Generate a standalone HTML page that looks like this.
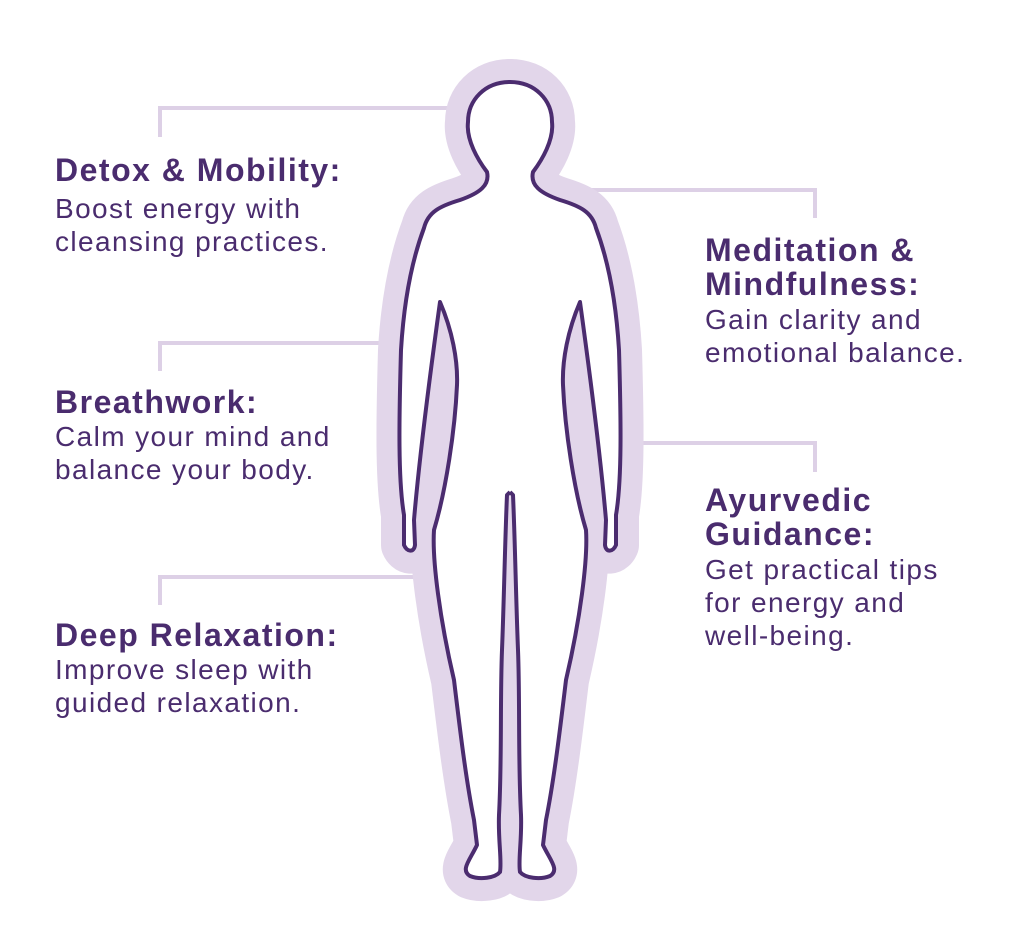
<!DOCTYPE html>
<html><head><meta charset="utf-8"><style>
html,body{margin:0;padding:0;background:#fff;}
#c{position:relative;width:1024px;height:952px;overflow:hidden;font-family:"Liberation Sans",sans-serif;color:#4a2c6e;}
.h{position:absolute;font-weight:bold;font-size:32px;line-height:34px;letter-spacing:1.5px;white-space:nowrap;}
.b{position:absolute;font-size:28px;line-height:33px;letter-spacing:1.4px;white-space:nowrap;}
svg{position:absolute;left:0;top:0;}
</style></head><body><div id="c">
<svg width="1024" height="952" viewBox="0 0 1024 952">
<defs>
<path id="L" d="M510,82 C485,82 468,100 468,122 C466,140 478,160 487,172 C490,185 480,193 460,200 C440,206 428,212 424,228 C412,260 404,300 401,350 C399,420 398,480 404,515 L404,545 C407,552 414,553 415,545 L414,520 C420,450 432,360 440,302 C452,330 458,360 457,385 C455,430 446,490 434,530 C432,560 440,620 454,680 C460,730 466,780 474,820 L477,845 C470,860 460,870 470,876 C480,880 495,878 500,872 C502,860 498,840 499,815 C502,760 500,700 502,650 C504,600 505,540 507,495 L510,492"/>
</defs>
<g stroke="#ddd0e6" stroke-width="4" fill="none">
<path d="M160,137 V108 H450"/>
<path d="M160,371 V343 H385"/>
<path d="M160,605 V577 H420"/>
<path d="M570,190 H815 V218"/>
<path d="M635,443 H815 V472"/>
</g>
<g stroke="#e2d6ea" stroke-width="46" stroke-linejoin="round" stroke-linecap="round" fill="#e2d6ea">
<use href="#L"/><use href="#L" transform="translate(1020,0) scale(-1,1)"/>
</g>
<g fill="#fff" stroke="none">
<use href="#L"/><use href="#L" transform="translate(1020,0) scale(-1,1)"/>
</g>
<g stroke="#4b2c6f" stroke-width="4" stroke-linejoin="round" fill="none">
<use href="#L"/><use href="#L" transform="translate(1020,0) scale(-1,1)"/>
</g>
</svg>
<div class="h" style="left:55px;top:153px">Detox &amp; Mobility:</div>
<div class="b" style="left:55px;top:192px">Boost energy with<br>cleansing practices.</div>
<div class="h" style="left:55px;top:385px">Breathwork:</div>
<div class="b" style="left:55px;top:420px">Calm your mind and<br>balance your body.</div>
<div class="h" style="left:55px;top:618px">Deep Relaxation:</div>
<div class="b" style="left:55px;top:653px">Improve sleep with<br>guided relaxation.</div>
<div class="h" style="left:705px;top:233px">Meditation &amp;<br>Mindfulness:</div>
<div class="b" style="left:705px;top:303px">Gain clarity and<br>emotional balance.</div>
<div class="h" style="left:705px;top:483px">Ayurvedic<br>Guidance:</div>
<div class="b" style="left:705px;top:553px">Get practical tips<br>for energy and<br>well-being.</div>
</div></body></html>
